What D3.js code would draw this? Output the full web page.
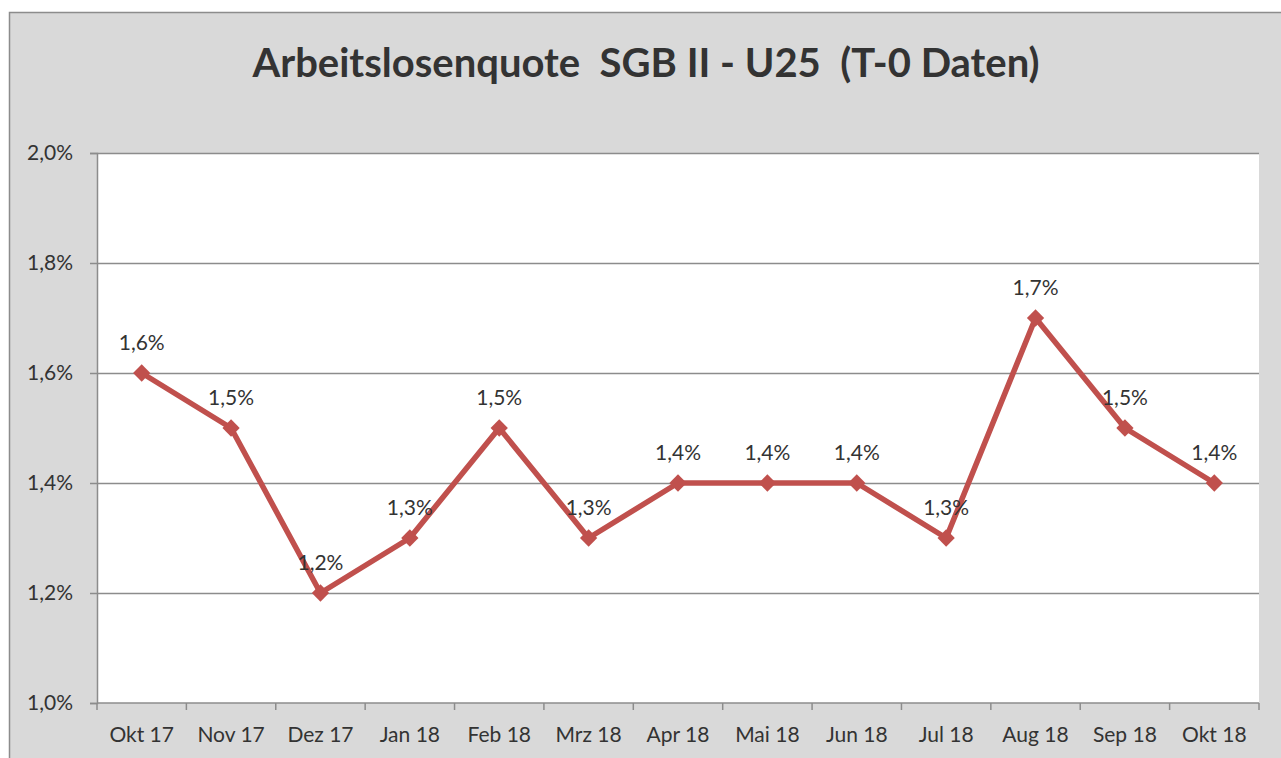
<!DOCTYPE html>
<html>
<head>
<meta charset="utf-8">
<script src="https://cdn.jsdelivr.net/npm/d3@7"></script>
<style>
  body { margin: 0; background: #fff; }
  svg { display: block; font-family: Lato, "Open Sans", sans-serif; }
</style>
</head>
<body>
<svg id="drawing_region"></svg>
<script>
const months = ["Okt 17", "Nov 17", "Dez 17", "Jan 18", "Feb 18", "Mrz 18", "Apr 18",
                "Mai 18", "Jun 18", "Jul 18", "Aug 18", "Sep 18", "Okt 18"];
const quote = [1.6, 1.5, 1.2, 1.3, 1.5, 1.3, 1.4, 1.4, 1.4, 1.3, 1.7, 1.5, 1.4];
const yTicks = [1.0, 1.2, 1.4, 1.6, 1.8, 2.0];
const title = "Arbeitslosenquote  SGB II - U25  (T-0 Daten)";

const config = {
    width: 1281,
    height: 758,
    margin: {top: 153, right: 22, bottom: 55, left: 97}
};

const fmt = v => d3.format(".1f")(v).replace(".", ",") + "%";

const svg = d3.select("#drawing_region")
    .attr("width", config.width)
    .attr("height", config.height);

// chart background with border
svg.append("rect")
    .attr("x", 9.5).attr("y", 12.5)
    .attr("width", config.width + 20).attr("height", config.height + 20)
    .attr("fill", "#d9d9d9")
    .attr("stroke", "#8c8c8c")
    .attr("stroke-width", 1.5);

svg.append("text")
    .attr("x", 646).attr("y", 77)
    .attr("text-anchor", "middle")
    .attr("font-size", 40)
    .attr("font-weight", "bold")
    .attr("fill", "#333")
    .style("white-space", "pre")
    .text(title);

const inner_width = config.width - config.margin.left - config.margin.right;
const inner_height = config.height - config.margin.top - config.margin.bottom;

const chart = svg.append("g")
    .attr("transform", `translate(${config.margin.left}, ${config.margin.top})`);

chart.append("rect")
    .attr("width", inner_width).attr("height", inner_height)
    .attr("fill", "#fff");

const xscale = d3.scaleBand().domain(months).range([0, inner_width]);
const yscale = d3.scaleLinear().domain([1.0, 2.0]).range([inner_height, 0]);

// gridlines
chart.selectAll(".grid")
    .data(yTicks.slice(1))
    .enter()
    .append("line")
    .attr("x1", 0).attr("x2", inner_width)
    .attr("y1", d => Math.round(yscale(d)) + 0.5)
    .attr("y2", d => Math.round(yscale(d)) + 0.5)
    .attr("stroke", "#8c8c8c")
    .attr("stroke-width", 1.5);

// y axis
const yaxis = d3.axisLeft(yscale)
    .tickValues(yTicks)
    .tickSize(7)
    .tickPadding(17)
    .tickFormat(fmt);

const yaxis_group = chart.append("g").call(yaxis);

// x axis, ticks at category boundaries
const xaxis_group = chart.append("g")
    .attr("transform", `translate(0, ${inner_height})`);

xaxis_group.append("line")
    .attr("x1", 0).attr("x2", inner_width)
    .attr("stroke", "#8c8c8c").attr("stroke-width", 1.5);

const boundaries = d3.range(months.length + 1).map(i => i * xscale.step());
xaxis_group.selectAll(".xtick")
    .data(boundaries)
    .enter()
    .append("line")
    .attr("x1", d => d).attr("x2", d => d)
    .attr("y1", 0).attr("y2", 7)
    .attr("stroke", "#8c8c8c").attr("stroke-width", 1.5);

xaxis_group.selectAll(".xlabel")
    .data(months)
    .enter()
    .append("text")
    .attr("x", d => xscale(d) + xscale.bandwidth() / 2)
    .attr("y", 39)
    .attr("text-anchor", "middle")
    .attr("font-size", 21)
    .attr("fill", "#333")
    .text(d => d);

yaxis_group.select(".domain").attr("stroke", "#8c8c8c").attr("stroke-width", 1.5);
yaxis_group.selectAll(".tick line").attr("stroke", "#8c8c8c").attr("stroke-width", 1.5);
yaxis_group.selectAll(".tick text")
    .attr("font-size", 21)
    .attr("font-family", "Lato, 'Open Sans', sans-serif")
    .attr("fill", "#333");

const points = months.map((m, i) => ({m: m, v: quote[i]}));
const cx = d => xscale(d.m) + xscale.bandwidth() / 2;

const line = d3.line()
    .x(cx)
    .y(d => yscale(d.v));

chart.append("path")
    .datum(points)
    .attr("d", line)
    .attr("fill", "none")
    .attr("stroke", "#c0504d")
    .attr("stroke-width", 5.5)
    .attr("stroke-linejoin", "round");

chart.selectAll(".marker")
    .data(points)
    .enter()
    .append("path")
    .attr("d", d3.symbol(d3.symbolDiamond2, 190))
    .attr("transform", d => `translate(${cx(d)}, ${yscale(d.v)})`)
    .attr("fill", "#c0504d");

chart.selectAll(".label")
    .data(points)
    .enter()
    .append("text")
    .attr("x", cx)
    .attr("y", d => yscale(d.v) - 23)
    .attr("text-anchor", "middle")
    .attr("font-size", 21)
    .attr("fill", "#333")
    .text(d => fmt(d.v));
</script>
</body>
</html>
